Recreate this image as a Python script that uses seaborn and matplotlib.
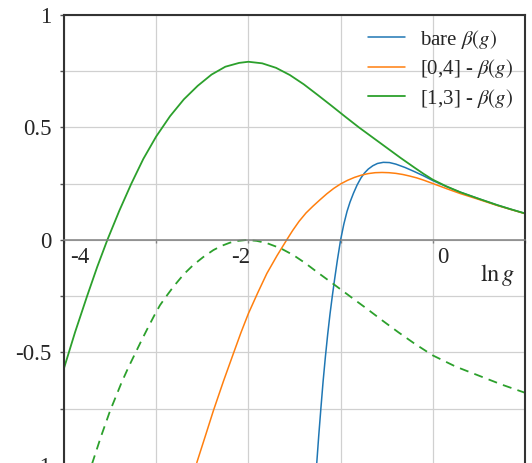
import matplotlib
matplotlib.use('Agg')
import matplotlib.pyplot as plt
import matplotlib.transforms as mtransforms
from matplotlib.ticker import MultipleLocator
import seaborn as sns

# data (x = ln g)
bare_x = [-1.26, -1.237, -1.213, -1.19, -1.165, -1.14, -1.115, -1.09, -1.065, -1.035,
          -1.0, -0.965, -0.93, -0.898, -0.86, -0.82, -0.78, -0.74, -0.7, -0.65,
          -0.6, -0.537, -0.47, -0.4, -0.3, -0.2, -0.1, 0.0, 0.15, 0.3,
          0.5, 0.7, 0.85, 1.0]
bare_y = [-1.0, -0.87, -0.745, -0.63, -0.52, -0.42, -0.33, -0.25, -0.175, -0.09,
          0.0, 0.07, 0.127, 0.168, 0.208, 0.245, 0.275, 0.298, 0.315, 0.33,
          0.34, 0.345, 0.344, 0.337, 0.322, 0.304, 0.285, 0.264, 0.237, 0.212,
          0.183, 0.155, 0.136, 0.118]

b04_x = [-2.56, -2.47, -2.38, -2.27, -2.164, -2.08, -2.0, -1.9, -1.8, -1.69,
         -1.585, -1.52, -1.45, -1.375, -1.3, -1.225, -1.15, -1.075, -1.0, -0.925,
         -0.85, -0.775, -0.7, -0.625, -0.55, -0.475, -0.4, -0.325, -0.25, -0.175,
         -0.1, 0.0, 0.15, 0.3, 0.5, 0.7, 0.85, 1.0]
b04_y = [-0.99, -0.875, -0.759, -0.627, -0.506, -0.411, -0.327, -0.236, -0.149, -0.07,
         0.0, 0.042, 0.083, 0.12, 0.15, 0.178, 0.205, 0.229, 0.249, 0.265,
         0.278, 0.288, 0.295, 0.299, 0.3, 0.299, 0.296, 0.291, 0.284, 0.276,
         0.266, 0.251, 0.228, 0.206, 0.18, 0.153, 0.135, 0.117]

b13_x = [-4.0, -3.88, -3.75, -3.64, -3.53, -3.4, -3.27, -3.14, -3.0, -2.85,
         -2.7, -2.55, -2.4, -2.25, -2.1, -2.0, -1.85, -1.7, -1.55, -1.4,
         -1.25, -1.1, -0.95, -0.8, -0.65, -0.5, -0.35, -0.2, -0.1, 0.0,
         0.15, 0.3, 0.5, 0.7, 0.85, 1.0]
b13_y = [-0.57, -0.41, -0.25, -0.12, 0.0, 0.13, 0.25, 0.36, 0.46, 0.55,
         0.625, 0.685, 0.735, 0.77, 0.787, 0.792, 0.785, 0.765, 0.733, 0.692,
         0.645, 0.597, 0.548, 0.5, 0.455, 0.41, 0.365, 0.322, 0.294, 0.268,
         0.238, 0.212, 0.183, 0.155, 0.136, 0.118]

dash_x = [-3.7, -3.6, -3.5, -3.374, -3.3, -3.23, -3.16, -3.086, -3.02, -2.959,
          -2.89, -2.814, -2.7, -2.6, -2.49, -2.38, -2.29, -2.2, -2.11, -2.02,
          -1.91, -1.8, -1.65, -1.513, -1.386, -1.26, -1.12, -0.988, -0.85, -0.717,
          -0.543, -0.374, -0.2, 0.0, 0.25, 0.5, 0.75, 1.0]
dash_y = [-1.0, -0.875, -0.759, -0.632, -0.565, -0.506, -0.447, -0.387, -0.335, -0.29,
          -0.25, -0.208, -0.152, -0.112, -0.076, -0.045, -0.026, -0.012, -0.004, 0.0,
          -0.004, -0.014, -0.037, -0.067, -0.102, -0.141, -0.183, -0.223, -0.265, -0.305,
          -0.359, -0.41, -0.46, -0.513, -0.563, -0.603, -0.643, -0.679]

BLUE, ORANGE, GREEN = '#1f77b4', '#ff7f0e', '#2ca02c'

sns.set_style("white")
plt.rcParams['font.family'] = ['Liberation Serif', 'DejaVu Serif']
plt.rcParams['mathtext.fontset'] = 'stix'

fig = plt.figure(figsize=(5.32, 4.63), dpi=100)
ax = fig.add_axes([0.1203, -0.0043, 0.8665, 0.972])

sns.lineplot(x=bare_x, y=bare_y, color=BLUE, lw=1.1, sort=False, label=r'bare $\beta(g)$', ax=ax)
sns.lineplot(x=b04_x, y=b04_y, color=ORANGE, lw=1.1, sort=False, label=r'[0,4] - $\beta(g)$', ax=ax)
sns.lineplot(x=b13_x, y=b13_y, color=GREEN, lw=1.3, sort=False, label=r'[1,3] - $\beta(g)$', ax=ax)
sns.lineplot(x=dash_x, y=dash_y, color=GREEN, lw=1.3, sort=False, linestyle=(0, (5, 3.5)), ax=ax)

ax.set_xlim(-4, 1)
ax.set_ylim(-1, 1)

# axes frame: x axis through zero
ax.spines['bottom'].set_position(('data', 0))
ax.spines['bottom'].set_color('#808080')
ax.spines['bottom'].set_linewidth(1.1)
for s in ['left', 'top', 'right']:
    ax.spines[s].set_color('#333333')
    ax.spines[s].set_linewidth(1.5)

ax.yaxis.set_minor_locator(MultipleLocator(0.25))
ax.set_xticks([-4, -3, -2, -1, 0, 1])
ax.set_xticklabels(['-4', '', '-2', '', '0', ''])
ax.set_yticks([-1, -0.5, 0, 0.5, 1])
ax.set_yticklabels(['-1', '-0.5', '0', '0.5', '1'])

ax.tick_params(axis='y', which='both', direction='out', length=3, width=1, color='#555555',
               labelsize=16.5, pad=6, left=True)
ax.tick_params(axis='x', direction='out', length=2, width=1, color='#808080',
               labelsize=16.5, pad=3, bottom=True)

# shift x tick labels like in the reference
offsets = {'-4': 11.5, '-2': -5.4, '0': 7.2}
for lab in ax.get_xticklabels():
    dx = offsets.get(lab.get_text(), 0)
    lab.set_transform(lab.get_transform() + mtransforms.ScaledTranslation(dx / 72, 0, fig.dpi_scale_trans))

ax.grid(True, which='both', color='#d0d0d0', lw=0.9)
ax.set_axisbelow(True)

ax.set_xlabel(r'$\mathrm{ln}\,g$', fontsize=17.5)
ax.xaxis.set_label_coords(0.941, 0.452)
ax.set_ylabel('')

ax.legend(loc='upper right', bbox_to_anchor=(0.992, 0.99), frameon=False, fontsize=15,
          handlelength=1.78, handletextpad=0.72, labelspacing=0.31, borderaxespad=0)

fig.savefig('out.png', dpi=100)
